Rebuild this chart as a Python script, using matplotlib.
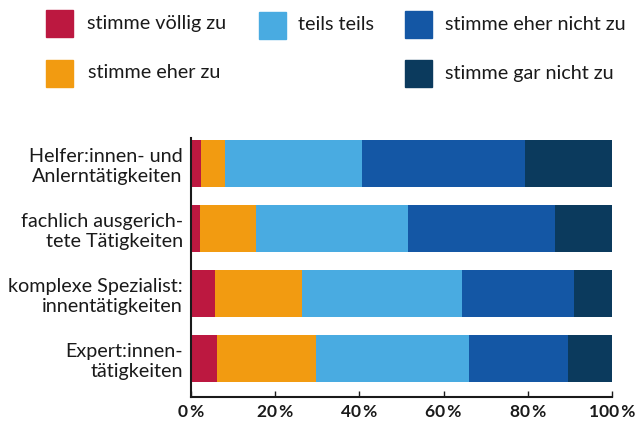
import matplotlib
matplotlib.use("Agg")
import matplotlib.pyplot as plt
from matplotlib.patches import Rectangle
import numpy as np

plt.rcParams['font.family'] = ['Lato', 'DejaVu Sans']

categories = ["Helfer:innen- und\nAnlerntätigkeiten",
              "fachlich ausgerich-\ntete Tätigkeiten",
              "komplexe Spezialist:\ninnentätigkeiten",
              "Expert:innen-\ntätigkeiten"]
series = ["stimme völlig zu", "stimme eher zu", "teils teils",
          "stimme eher nicht zu", "stimme gar nicht zu"]
values = {
    "stimme völlig zu":     [2.4, 2.1, 5.7, 6.2],
    "stimme eher zu":       [5.7, 13.3, 20.7, 23.5],
    "teils teils":          [32.5, 36.1, 38.0, 36.3],
    "stimme eher nicht zu": [38.7, 35.0, 26.6, 23.5],
    "stimme gar nicht zu":  [20.7, 13.5, 9.0, 10.5],
}
colors = ["#BC1840", "#F29B11", "#49ABE1", "#1457A5", "#0B3A5D"]
xticks = [0, 20, 40, 60, 80, 100]
xticklabels = ["0\u2009%", "20\u2009%", "40\u2009%", "60\u2009%", "80\u2009%", "100\u2009%"]

W, H = 635, 421
fig = plt.figure(figsize=(W / 100, H / 100), dpi=100)
ax = fig.add_axes([191 / W, 1 - 397 / H, (612 - 191) / W, (397 - 138) / H])

y = np.arange(len(categories))
left = np.zeros(len(categories))
for s, c in zip(series, colors):
    v = np.array(values[s])
    ax.barh(y, v, left=left, height=0.72, color=c, edgecolor='none')
    left += v

ax.set_xlim(0, 100)
ax.set_ylim(3 + 0.59, -0.39)
ax.set_yticks(y)
ax.set_yticklabels(categories, fontsize=14.2, color='#1a1a1a', linespacing=1.2)
ax.set_xticks(xticks)
ax.set_xticklabels(xticklabels, fontsize=12.5, fontweight='bold', color='#1a1a1a')
ax.tick_params(axis='y', length=0, pad=6)
ax.tick_params(axis='x', direction='in', length=4.5, width=1.0, color='#1a1a1a', pad=5)
for sp in ['top', 'right']:
    ax.spines[sp].set_visible(False)
for sp in ['left', 'bottom']:
    ax.spines[sp].set_color('#1a1a1a')
    ax.spines[sp].set_linewidth(1.5)

# legend drawn manually in figure pixel coordinates: (square x, square y, text x)
leg_pos = [(46, 10, 87), (46, 60, 88), (259, 12, 298), (405, 11, 445), (405, 60, 445)]
for s, c, (sx, sy, tx) in zip(series, colors, leg_pos):
    fig.patches.append(Rectangle((sx / W, 1 - (sy + 27) / H), 27 / W, 27 / H,
                                 transform=fig.transFigure, color=c))
    fig.text(tx / W, 1 - (sy + 13) / H, s, fontsize=14.2, color='#1a1a1a',
             ha='left', va='center')

fig.savefig("out.png", dpi=100)
